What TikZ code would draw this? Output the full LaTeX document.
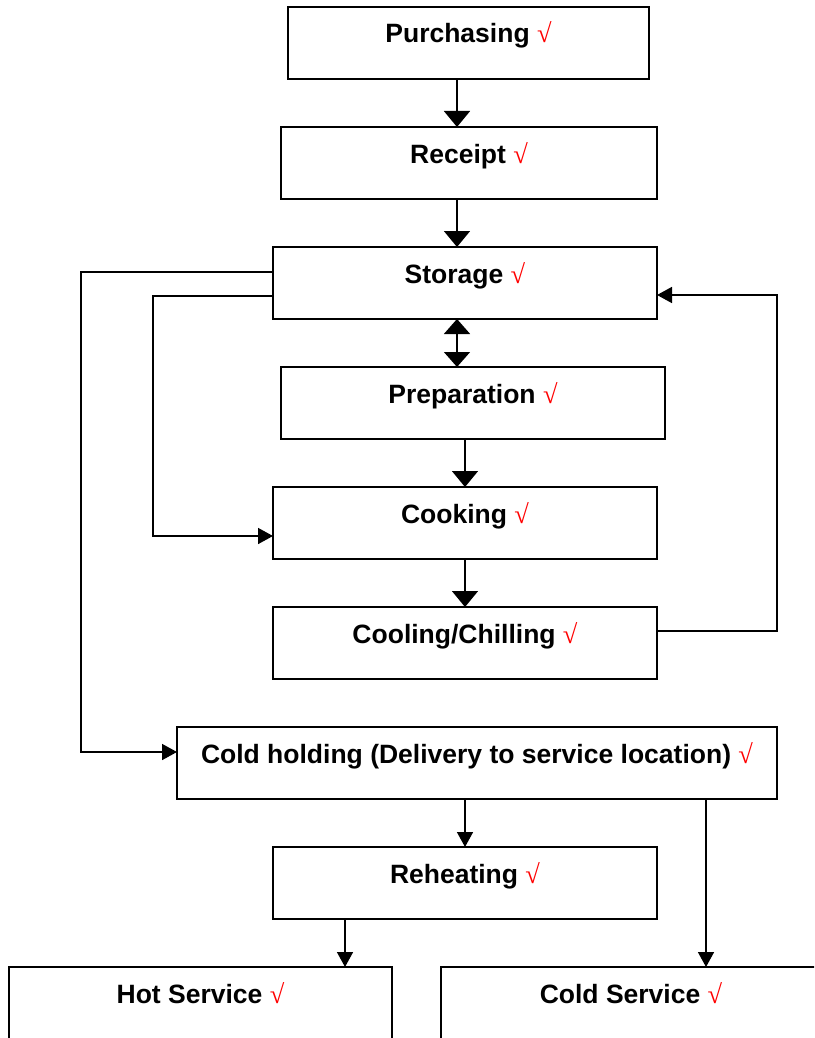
\documentclass[tikz,border=0pt]{standalone}
\usepackage{fontspec}
\setmainfont{Liberation Sans}
\newfontfamily\tickfont{Liberation Serif}
\usetikzlibrary{arrows.meta,calc}

\newcommand{\tickmark}{{\color{red}\tickfont\mdseries √}}

\begin{document}
\begin{tikzpicture}[x=1pt,y=-1pt,
  stepbox/.style={draw, line width=1.8pt, inner sep=0pt, outer sep=0pt, anchor=north west},
  lbl/.style={anchor=base, inner sep=0pt, font=\fontsize{26.5}{30}\selectfont\bfseries},
  link/.style={line width=1.6pt},
  bighead/.style={link, -{Triangle[length=16pt,width=26pt]}},
  bothhead/.style={link, {Triangle[length=15pt,width=26pt]}-{Triangle[length=15pt,width=26pt]}},
  smallhead/.style={link, -{Triangle[length=15pt,width=16pt]}}]

  \useasboundingbox (0,0) rectangle (814,1038);
  \clip (0,0) rectangle (814,1038);
  \fill[white] (0,0) rectangle (814,1038);

  % process boxes (top-left corner, width, height)
  \node[stepbox, minimum width=361pt, minimum height=72pt] (purch)   at (288,7)   {};
  \node[stepbox, minimum width=376pt, minimum height=72pt] (receipt) at (281,127) {};
  \node[stepbox, minimum width=384pt, minimum height=72pt] (storage) at (273,247) {};
  \node[stepbox, minimum width=384pt, minimum height=72pt] (prep)    at (281,367) {};
  \node[stepbox, minimum width=384pt, minimum height=72pt] (cook)    at (273,487) {};
  \node[stepbox, minimum width=384pt, minimum height=72pt] (cool)    at (273,607) {};
  \node[stepbox, minimum width=600pt, minimum height=72pt] (hold)    at (177,727) {};
  \node[stepbox, minimum width=384pt, minimum height=72pt] (reheat)  at (273,847) {};
  \node[stepbox, minimum width=383pt, minimum height=110pt] (hot)    at (9,967)   {};
  \node[stepbox, minimum width=380pt, minimum height=110pt] (coldsv) at (441,967) {};

  % box captions, baseline 36pt below the top edge
  \node[lbl] (purch-t)   at ($(purch.north)+(0,36)$)   {Purchasing \tickmark};
  \node[lbl] (receipt-t) at ($(receipt.north)+(0,36)$) {Receipt \tickmark};
  \node[lbl] (storage-t) at ($(storage.north)+(0,36)$) {Storage \tickmark};
  \node[lbl] (prep-t)    at ($(prep.north)+(0,36)$)    {Preparation \tickmark};
  \node[lbl] (cook-t)    at ($(cook.north)+(0,36)$)    {Cooking \tickmark};
  \node[lbl] (cool-t)    at ($(cool.north)+(0,36)$)    {Cooling/Chilling \tickmark};
  \node[lbl] (hold-t)    at ($(hold.north)+(0,36)$)    {Cold holding (Delivery to service location) \tickmark};
  \node[lbl] (reheat-t)  at ($(reheat.north)+(0,36)$)  {Reheating \tickmark};
  \node[lbl] (hot-t)     at ($(hot.north)+(0,36)$)     {Hot Service \tickmark};
  \node[lbl] (coldsv-t)  at ($(coldsv.north)+(0,36)$)  {Cold Service \tickmark};

  % connector guide lines
  \coordinate (xa) at (457,0);
  \coordinate (xb) at (465,0);
  \coordinate (xc) at (345,0);
  \coordinate (xd) at (706,0);
  \coordinate (xl) at (81,0);
  \coordinate (xm) at (153,0);
  \coordinate (xr) at (777,0);
  \coordinate (ya) at (0,272);
  \coordinate (yb) at (0,296);
  \coordinate (yc) at (0,536);
  \coordinate (yd) at (0,752);
  \coordinate (ye) at (0,295);
  \coordinate (yf) at (0,631);

  % main chain
  \draw[bighead]  (purch.south -| xa)   -- (receipt.north -| xa);
  \draw[bighead]  (receipt.south -| xa) -- (storage.north -| xa);
  \draw[bothhead] (storage.south -| xa) -- (prep.north -| xa);
  \draw[bighead]  (prep.south -| xb)    -- (cook.north -| xb);
  \draw[bighead]  (cook.south -| xb)    -- (cool.north -| xb);

  % return from cooling to storage
  \draw[smallhead] (cool.east |- yf) -| (xr |- ye) -- (storage.east |- ye);

  % storage bypasses
  \draw[smallhead] (storage.west |- ya) -| (xl |- yd) -- (hold.west |- yd);
  \draw[smallhead] (storage.west |- yb) -| (xm |- yc) -- (cook.west |- yc);

  % service branches
  \draw[smallhead] (hold.south -| xb)   -- (reheat.north -| xb);
  \draw[smallhead] (reheat.south -| xc) -- (hot.north -| xc);
  \draw[smallhead] (hold.south -| xd)   -- (coldsv.north -| xd);
\end{tikzpicture}
\end{document}
